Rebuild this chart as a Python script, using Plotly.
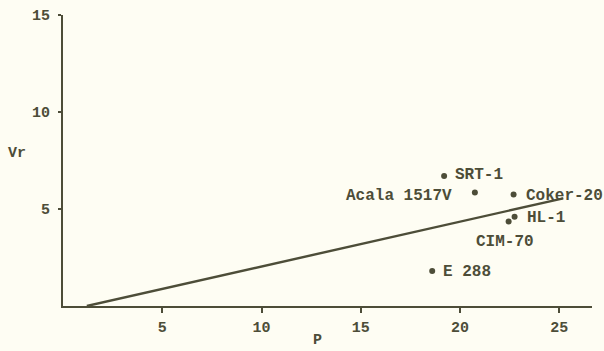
import plotly.graph_objects as go

# Genotype means: P (x) against Vr (y)
genotypes = ["SRT-1", "Acala 1517V", "Coker-20", "HL-1", "CIM-70", "E 288"]
p_vals = [19.2, 20.75, 22.7, 22.75, 22.45, 18.6]
vr_vals = [6.7, 5.85, 5.75, 4.6, 4.35, 1.8]

# Fitted regression line endpoints
line_p = [1.2, 25.2]
line_vr = [0.0, 5.55]

# Axis ticks
x_ticks = [5, 10, 15, 20, 25]
y_ticks = [5, 10, 15]

INK = "#4d4d38"
PAPER = "#fefdf3"
FONT = "Liberation Mono"
BOLD = dict(family=FONT, size=15, color=INK, weight="bold")

# label placement per genotype: (xanchor, yanchor, xshift, yshift)
label_style = {
    "SRT-1": ("left", "middle", 9, 1),
    "Acala 1517V": ("right", "middle", -21, -3),
    "Coker-20": ("left", "middle", 10, -2),
    "HL-1": ("left", "middle", 10, -1),
    "CIM-70": ("center", "middle", -4, -20),
    "E 288": ("left", "middle", 9, -1),
}

fig = go.Figure()

fig.add_trace(go.Scatter(
    x=line_p, y=line_vr, mode="lines",
    line=dict(color=INK, width=2.4),
    hoverinfo="skip", showlegend=False,
))

fig.add_trace(go.Scatter(
    x=p_vals, y=vr_vals, mode="markers",
    marker=dict(color=INK, size=6),
    text=genotypes, showlegend=False, cliponaxis=False,
))

for name, px, vy in zip(genotypes, p_vals, vr_vals):
    xa, ya, dx, dy = label_style[name]
    fig.add_annotation(
        x=px, y=vy, text=name, showarrow=False,
        xanchor=xa, yanchor=ya, xshift=dx, yshift=dy,
        font=dict(family=FONT, size=16, color=INK, weight="bold"),
    )

# axis titles, set horizontally beside the axes
fig.add_annotation(x=17, y=153, xref="paper", yref="paper", text="Vr",
                   showarrow=False, xanchor="center", yanchor="middle", font=BOLD)
fig.add_annotation(x=317, y=340, xref="paper", yref="paper", text="P",
                   showarrow=False, xanchor="center", yanchor="middle", font=BOLD)
# convert the pixel placements above into paper fractions
W, H = 604, 351
L, R, T, B = 63, 12, 15, 45
for ann in fig.layout.annotations[-2:]:
    ann.x = (ann.x - L) / (W - L - R)
    ann.y = (H - B - ann.y) / (H - T - B)

fig.update_layout(
    width=W, height=H,
    margin=dict(l=L, r=R, t=T, b=B),
    paper_bgcolor=PAPER, plot_bgcolor=PAPER,
    font=dict(family=FONT, size=15, color=INK),
    xaxis=dict(
        range=[0, 26.65], tickvals=x_ticks, showgrid=False, zeroline=False,
        showline=True, linecolor=INK, linewidth=2, automargin=False,
        ticks="outside", ticklen=5, tickwidth=2, tickcolor=INK,
        ticklabelstandoff=1, tickfont=BOLD,
    ),
    yaxis=dict(
        range=[0, 15], tickvals=y_ticks, showgrid=False, zeroline=False,
        showline=True, linecolor=INK, linewidth=2, automargin=False,
        ticks="outside", ticklen=3, tickwidth=2, tickcolor=INK,
        ticklabelstandoff=5, tickfont=BOLD,
    ),
)

fig.write_html("out.html")
